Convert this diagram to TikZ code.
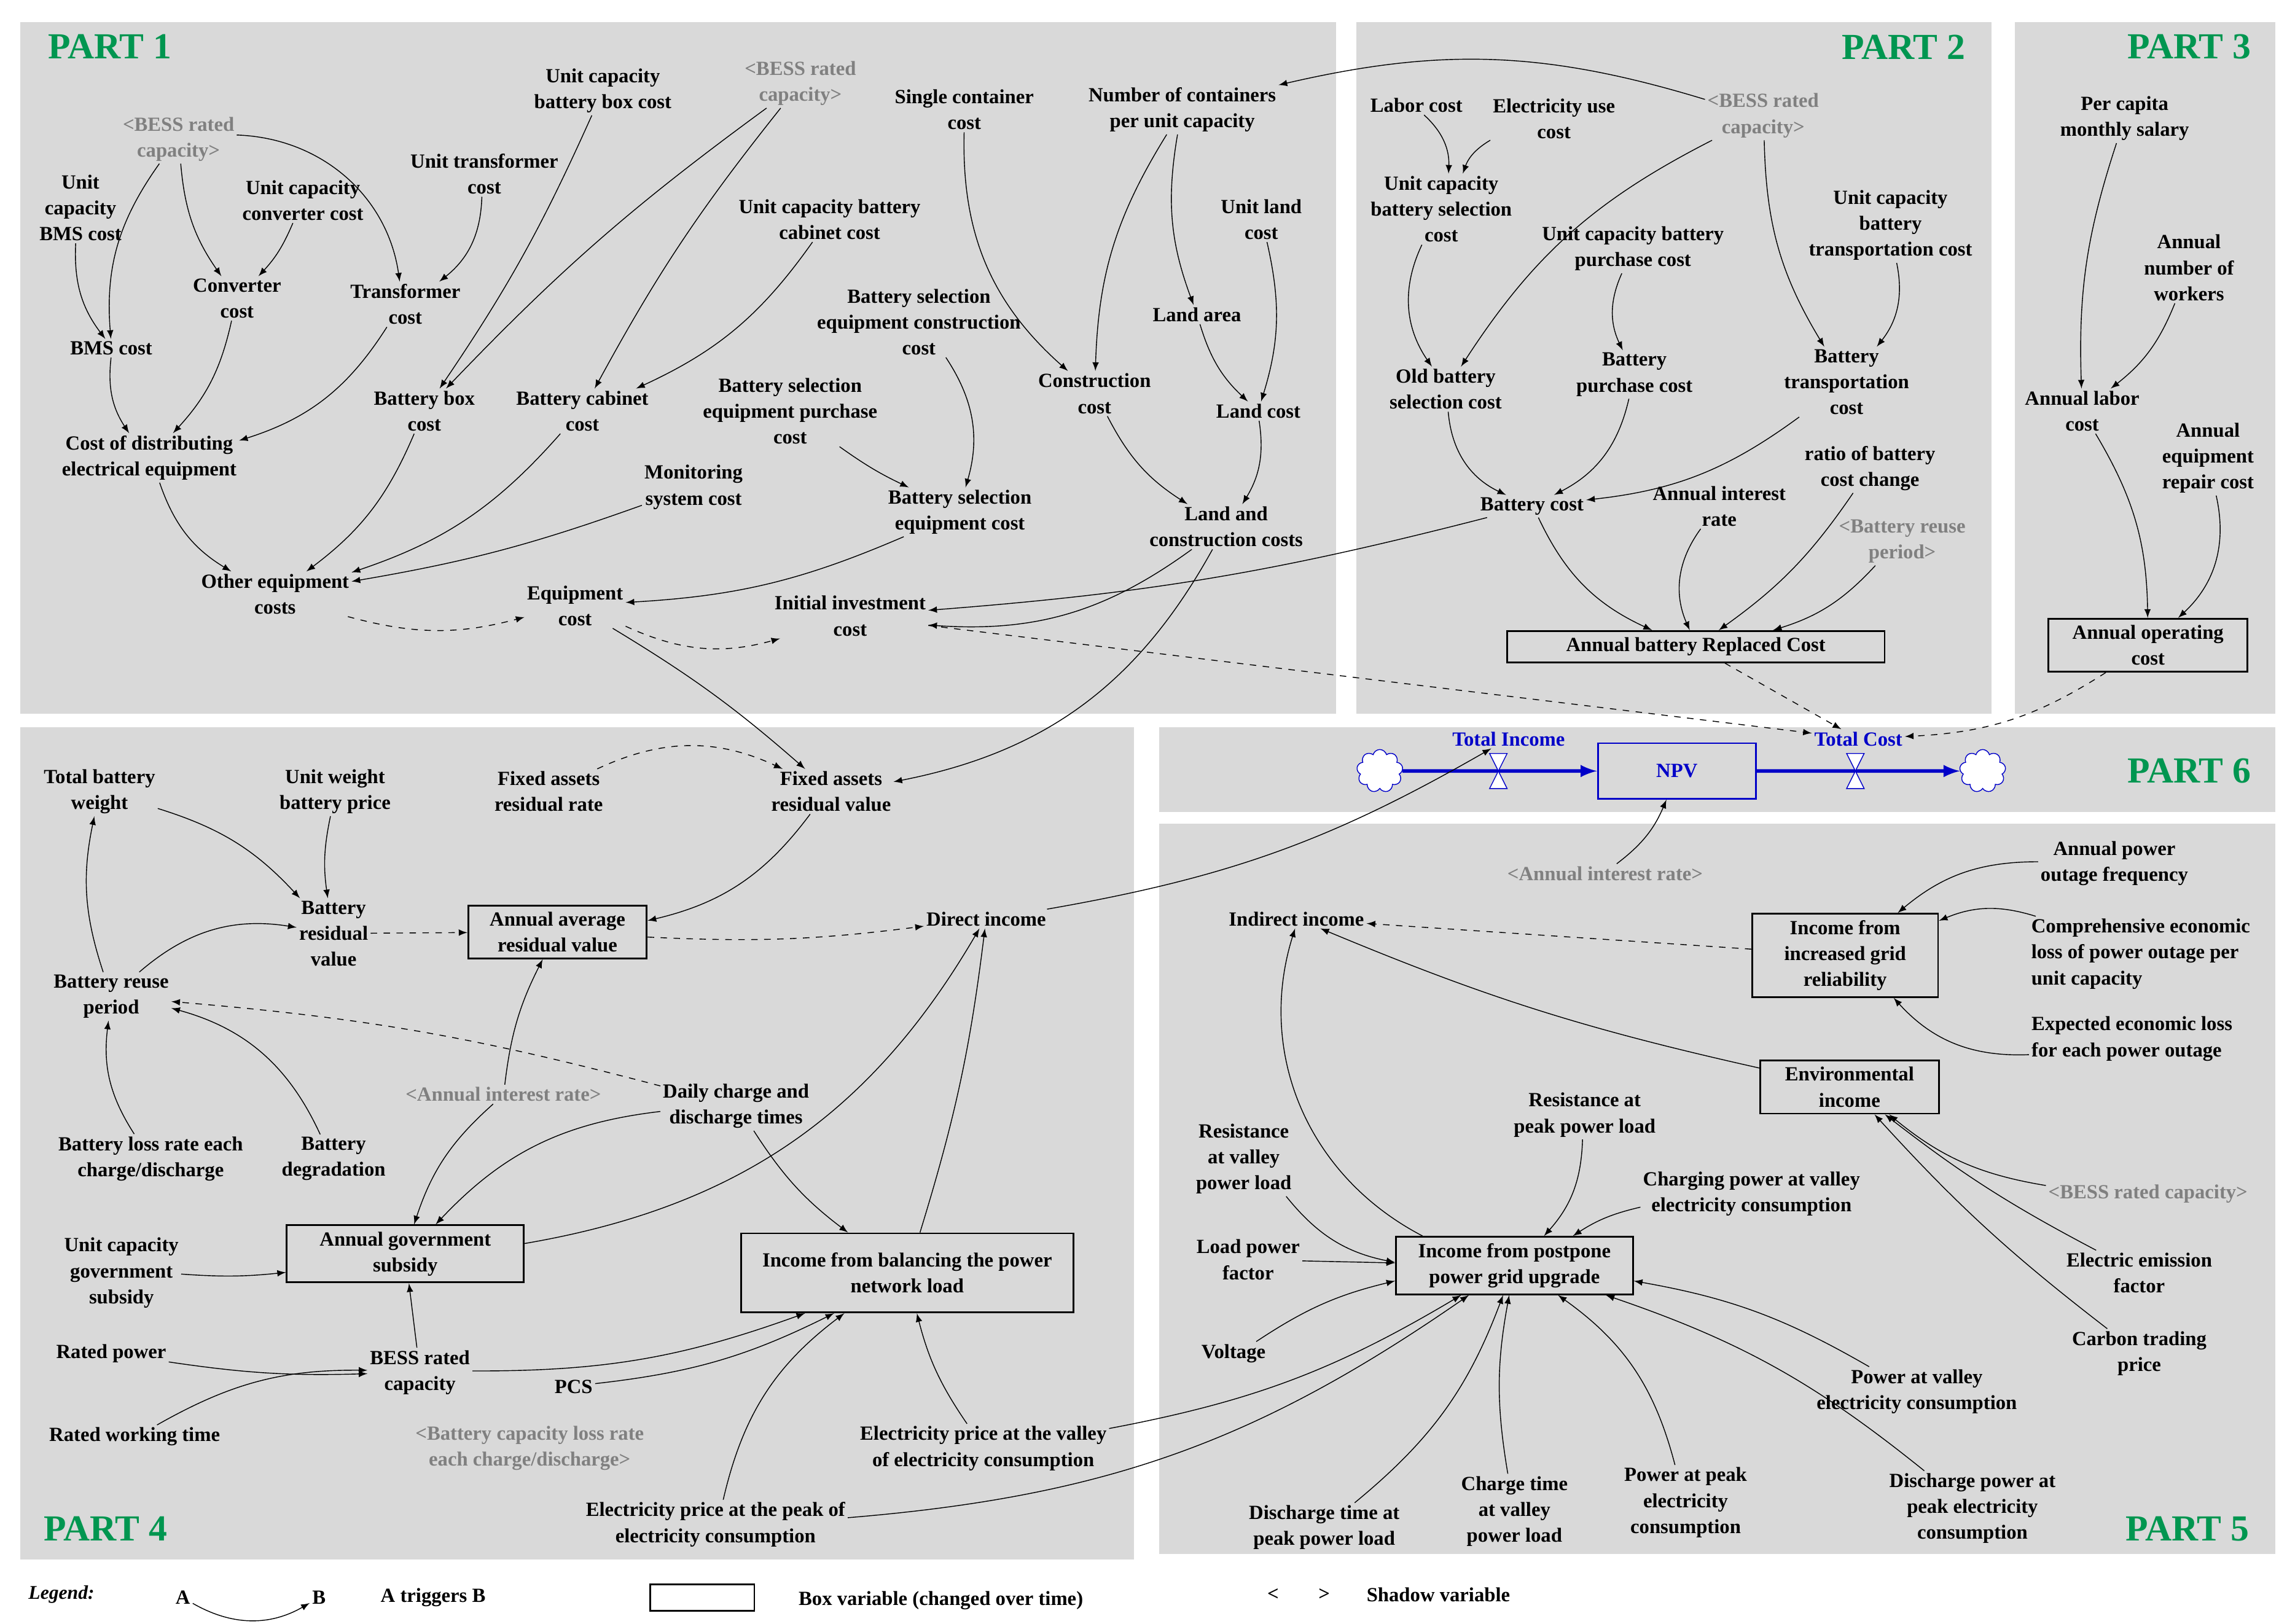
\documentclass[tikz,border=0pt]{standalone}
\usepackage{fontspec}
\setmainfont{Liberation Serif}
\usetikzlibrary{shapes.symbols,arrows}
\definecolor{panel}{RGB}{217,217,217}
\definecolor{partgreen}{RGB}{0,150,80}
\definecolor{npvblue}{RGB}{0,0,200}
\tikzset{
  var/.style={align=center,font=\bfseries\fontsize{9.3}{12}\selectfont,inner sep=1pt},
  shadow/.style={var,text=gray},
  box/.style={var,draw,thick,inner sep=3pt},
  arr/.style={-latex,thin},
  dsh/.style={arr,dashed},
  part/.style={font=\bfseries\fontsize{17}{17}\selectfont,text=partgreen},
  pipe/.style={-latex,npvblue,line width=1.6pt}
}
\begin{document}
\begin{tikzpicture}[x=0.02382cm,y=-0.02382cm]
\useasboundingbox[fill=white] (0,0) rectangle (1563,1110);
% panels
\fill[panel] (14,15) rectangle (913,488); % Part 1
\fill[panel] (927,15) rectangle (1361,488); % Part 2
\fill[panel] (1377,15) rectangle (1555,488); % Part 3
\fill[panel] (14,497) rectangle (775,1066); % Part 4
\fill[panel] (792,497) rectangle (1555,555); % Part 6
\fill[panel] (792,563) rectangle (1555,1062); % Part 5
\node[part] (p1) at (75,32) {PART 1};
\node[part] (p2) at (1301,32) {PART 2};
\node[part] (p3) at (1496,32) {PART 3};
\node[part] (p6) at (1496,527) {PART 6};
\node[part] (p4) at (72,1045) {PART 4};
\node[part] (p5) at (1495,1045) {PART 5};
% Part 1
\node[shadow] (bessA) at (122,95) {<BESS rated\\capacity>};
\node[var] (ucbms) at (55,142) {Unit\\capacity\\BMS cost};
\node[var] (ucconv) at (207,137) {Unit capacity\\converter cost};
\node[var] (uctrans) at (331,119) {Unit transformer\\cost};
\node[var] (ucbox) at (412,62) {Unit capacity\\battery box cost};
\node[shadow] (bessB) at (547,57) {<BESS rated\\capacity>};
\node[var] (single) at (659,75) {Single container\\cost};
\node[var] (numcont) at (808,75) {Number of containers\\per unit capacity};
\node[var] (uccab) at (567,150) {Unit capacity battery\\cabinet cost};
\node[var] (bms) at (76,238) {BMS cost};
\node[var] (conv) at (162,204) {Converter\\cost};
\node[var] (trans) at (277,208) {Transformer\\cost};
\node[var] (bsect) at (628,220) {Battery selection\\equipment construction\\cost};
\node[var] (unitland) at (862,150) {Unit land\\cost};
\node[var] (landarea) at (818,215) {Land area};
\node[var] (box) at (290,281) {Battery box\\cost};
\node[var] (cab) at (398,281) {Battery cabinet\\cost};
\node[var] (bsepc) at (540,281) {Battery selection\\equipment purchase\\cost};
\node[var] (constr) at (748,269) {Construction\\cost};
\node[var] (landcost) at (860,281) {Land cost};
\node[var] (distrib) at (102,313) {Cost of distributing\\electrical equipment};
\node[var] (monitor) at (474,333) {Monitoring\\system cost};
\node[var] (bsec) at (656,350) {Battery selection\\equipment cost};
\node[var] (landconst) at (838,360) {Land and\\construction costs};
\node[var] (other) at (188,406) {Other equipment\\costs};
\node[var] (equip) at (393,414) {Equipment\\cost};
\node[var] (initinv) at (581,421) {Initial investment\\cost};
% Part 2
\node[var] (labor) at (968,72) {Labor cost};
\node[var] (elec) at (1062,81) {Electricity use\\cost};
\node[shadow] (bessC) at (1205,79) {<BESS rated\\capacity>};
\node[var] (ucbsc) at (985,143) {Unit capacity\\battery selection\\cost};
\node[var] (ucbpc) at (1116,170) {Unit capacity battery\\purchase cost};
\node[var] (ucbtc) at (1292,154) {Unit capacity\\battery\\transportation cost};
\node[var] (oldbsc) at (988,266) {Old battery\\selection cost};
\node[var] (bpc) at (1117,256) {Battery\\purchase cost};
\node[var] (btc) at (1262,261) {Battery\\transportation\\cost};
\node[var] (ratio) at (1278,320) {ratio of battery\\cost change};
\node[var] (bcost) at (1047,346) {Battery cost};
\node[var] (air) at (1175,346) {Annual interest\\rate};
\node[shadow] (brp) at (1300,370) {<Battery reuse\\period>};
\node[box,minimum width=258*0.02382cm] (abrc) at (1159,442) {Annual battery Replaced Cost};
% Part 3
\node[var] (salary) at (1452,81) {Per capita\\monthly salary};
\node[var] (workers) at (1496,183) {Annual\\number of\\workers};
\node[var] (labor3) at (1423,281) {Annual labor\\cost};
\node[var] (repair) at (1509,313) {Annual\\equipment\\repair cost};
\node[box,minimum width=136*0.02382cm] (aoc) at (1468,441) {Annual operating\\cost};
% Part 6
\node[cloud,draw,npvblue,fill=white,cloud puffs=9,minimum width=0.75cm,minimum height=0.7cm] (cloudL) at (943,527) {};
\node[cloud,draw,npvblue,fill=white,cloud puffs=9,minimum width=0.75cm,minimum height=0.7cm] (cloudR) at (1355,527) {};
\node[box,npvblue,minimum width=108*0.02382cm,minimum height=38*0.02382cm] (npv) at (1146,527) {NPV};
\coordinate (valveL) at (1024,527);
\coordinate (valveR) at (1268,527);
\draw[pipe] (cloudL) -- (npv);
\draw[pipe] (npv) -- (cloudR);
\foreach \v in {valveL,valveR}
  \draw[npvblue,fill=white,thin] ([shift={(-6,-12)}]\v) -- ([shift={(6,-12)}]\v) -- ([shift={(-6,12)}]\v) -- ([shift={(6,12)}]\v) -- cycle;
\node[var,text=npvblue] (tinc) at (1031,505) {Total Income};
\node[var,text=npvblue] (tcost) at (1270,505) {Total Cost};
% Part 4
\node[var] (tbw) at (68,541) {Total battery\\weight};
\node[var] (uwbp) at (229,541) {Unit weight\\battery price};
\node[var] (farr) at (375,541) {Fixed assets\\residual rate};
\node[var] (farv) at (568,541) {Fixed assets\\residual value};
\node[var] (brv) at (228,638) {Battery\\residual\\value};
\node[box,minimum width=122*0.02382cm] (aarv) at (381,637) {Annual average\\residual value};
\node[var] (direct) at (674,628) {Direct income};
\node[var] (brp4) at (76,681) {Battery reuse\\period};
\node[shadow] (air4) at (344,748) {<Annual interest rate>};
\node[var] (dcdt) at (503,756) {Daily charge and\\discharge times};
\node[var] (blr) at (103,792) {Battery loss rate each\\charge/discharge};
\node[var] (bdeg) at (228,792) {Battery\\degradation};
\node[var] (ucgs) at (83,870) {Unit capacity\\government\\subsidy};
\node[box,minimum width=162*0.02382cm] (ags) at (277,857) {Annual government\\subsidy};
\node[box,minimum width=227*0.02382cm,minimum height=54*0.02382cm] (ibal) at (620,870) {Income from balancing the power\\network load};
\node[var] (rated) at (76,925) {Rated power};
\node[var] (bessrc) at (287,938) {BESS rated\\capacity};
\node[var] (pcs) at (392,948) {PCS};
\node[shadow] (bclr) at (362,990) {<Battery capacity loss rate\\each charge/discharge>};
\node[var] (epv) at (672,990) {Electricity price at the valley\\of electricity consumption};
\node[var] (rwt) at (92,982) {Rated working time};
\node[var] (epp) at (489,1042) {Electricity price at the peak of\\electricity consumption};
% Part 5
\node[shadow] (air5) at (1097,597) {<Annual interest rate>};
\node[var] (apof) at (1445,590) {Annual power\\outage frequency};
\node[var] (indirect) at (886,628) {Indirect income};
\node[box,minimum width=127*0.02382cm] (iigr) at (1261,653) {Income from\\increased grid\\reliability};
\node[var,align=left] (cel) at (1463,652) {Comprehensive economic\\loss of power outage per\\unit capacity};
\node[var,align=left] (eel) at (1457,710) {Expected economic loss\\for each power outage};
\node[box,minimum width=122*0.02382cm] (env) at (1264,743) {Environmental\\income};
\node[var] (rpp) at (1083,762) {Resistance at\\peak power load};
\node[var] (rvp) at (850,792) {Resistance\\at valley\\power load};
\node[var] (cpv) at (1197,816) {Charging power at valley\\electricity consumption};
\node[shadow] (bessD) at (1468,816) {<BESS rated capacity>};
\node[var] (lpf) at (853,861) {Load power\\factor};
\node[box,minimum width=162*0.02382cm] (ipg) at (1035,865) {Income from postpone\\power grid upgrade};
\node[var] (eef) at (1462,870) {Electric emission\\factor};
\node[var] (volt) at (843,925) {Voltage};
\node[var] (ctp) at (1462,925) {Carbon trading\\price};
\node[var] (pvc) at (1310,951) {Power at valley\\electricity consumption};
\node[var] (ctv) at (1035,1033) {Charge time\\at valley\\power load};
\node[var] (pppe) at (1152,1027) {Power at peak\\electricity\\consumption};
\node[var] (dtp) at (905,1044) {Discharge time at\\peak power load};
\node[var] (dpp) at (1348,1031) {Discharge power at\\peak electricity\\consumption};
% links part 1
\draw[arr] (bessA) to[bend right=20] (bms);
\draw[arr] (bessA) to[bend right=15] (conv);
\draw[arr] (bessA) to[bend left=40] (trans);
\draw[arr] (ucbms) to[bend right=20] (bms);
\draw[arr] (ucconv) to[bend left=10] (conv);
\draw[arr] (uctrans) to[bend left=25] (trans);
\draw[arr] (bms) to[bend right=20] (distrib);
\draw[arr] (conv) to[bend left=15] (distrib);
\draw[arr] (trans) to[bend left=20] (distrib);
\draw[arr] (ucbox) to[bend left=5] (box);
\draw[arr] (bessB) to[bend right=5] (box);
\draw[arr] (bessB) to[bend right=5] (cab);
\draw[arr] (uccab) to[bend left=15] (cab);
\draw[arr] (box) to[bend left=15] (other);
\draw[arr] (cab) to[bend left=15] (other);
\draw[arr] (distrib) to[bend right=20] (other);
\draw[arr] (monitor) to[bend left=5] (other);
\draw[dsh] (other) to[bend right=15] (equip);
\draw[arr] (bsec) to[bend left=10] (equip);
\draw[dsh] (equip) to[bend right=20] (initinv);
\draw[arr] (bsect) to[bend left=25] (bsec);
\draw[arr] (bsepc) to[bend right=5] (bsec);
\draw[arr] (single) to[bend right=25] (constr);
\draw[arr] (numcont) to[bend right=15] (constr);
\draw[arr] (numcont) to[bend right=15] (landarea);
\draw[arr] (unitland) to[bend left=15] (landcost);
\draw[arr] (landarea) to[bend right=15] (landcost);
\draw[arr] (constr) to[bend right=15] (landconst);
\draw[arr] (landcost) to[bend left=20] (landconst);
\draw[arr] (landconst) to[bend left=20] (initinv);
\draw[arr] (landconst) to[bend left=25] (farv);
\draw[arr] (equip) to[bend left=5] (farv);
\draw[arr] (bcost) to[bend left=5] (initinv);
\draw[dsh] (initinv) -- (tcost);
% links part 2
\draw[arr] (bessC) to[bend right=15] (numcont);
\draw[arr] (bessC) to[bend right=15] (oldbsc);
\draw[arr] (bessC) to[bend right=15] (btc);
\draw[arr] (labor) to[bend left=25] (ucbsc);
\draw[arr] (elec) to[bend right=20] (ucbsc);
\draw[arr] (ucbsc) to[bend right=30] (oldbsc);
\draw[arr] (ucbpc) to[bend right=25] (bpc);
\draw[arr] (ucbtc) to[bend left=25] (btc);
\draw[arr] (oldbsc) to[bend right=30] (bcost);
\draw[arr] (bpc) to[bend left=25] (bcost);
\draw[arr] (btc) to[bend left=15] (bcost);
\draw[arr] (bcost) to[bend right=20] (abrc);
\draw[arr] (air) to[bend right=30] (abrc);
\draw[arr] (ratio) to[bend left=10] (abrc);
\draw[arr] (brp) to[bend left=15] (abrc);
\draw[dsh] (abrc) -- (tcost);
% links part 3
\draw[arr] (salary) to[bend right=10] (labor3);
\draw[arr] (workers) to[bend left=15] (labor3);
\draw[arr] (labor3) to[bend left=15] (aoc);
\draw[arr] (repair) to[bend left=30] (aoc);
\draw[dsh] (aoc) to[bend left=15] (tcost);
% links part 6
\draw[arr] (direct) to[bend right=10] (tinc);
\draw[arr] (air5) to[bend right=15] (npv);
% links part 4
\draw[arr] (tbw) to[bend left=15] (brv);
\draw[arr] (uwbp) to[bend right=10] (brv);
\draw[arr] (brp4) to[bend left=15] (tbw);
\draw[arr] (brp4) to[bend left=25] (brv);
\draw[arr] (blr) to[bend left=20] (brp4);
\draw[arr] (bdeg) to[bend right=25] (brp4);
\draw[dsh] (dcdt) to[bend right=5] (brp4);
\draw[dsh] (brv) -- (aarv);
\draw[dsh] (farr) to[bend left=25] (farv);
\draw[arr] (farv) to[bend left=20] (aarv);
\draw[dsh] (aarv) to[bend right=5] (direct);
\draw[arr] (air4) to[bend left=10] (aarv);
\draw[arr] (air4) to[bend right=15] (ags);
\draw[arr] (dcdt) to[bend right=20] (ags);
\draw[arr] (dcdt) to[bend right=10] (ibal);
\draw[arr] (ucgs) to[bend right=5] (ags);
\draw[arr] (ags) to[bend right=25] (direct);
\draw[arr] (ibal) to[bend right=5] (direct);
\draw[arr] (rated) to[bend right=5] (bessrc);
\draw[arr] (rwt) to[bend left=15] (bessrc);
\draw[arr] (bessrc) -- (ags);
\draw[arr] (bessrc) to[bend right=10] (ibal);
\draw[arr] (pcs) to[bend right=10] (ibal);
\draw[arr] (epv) to[bend left=10] (ibal);
\draw[arr] (epp) to[bend left=20] (ibal);
\draw[arr] (epv) to[bend right=10] (ipg);
\draw[arr] (epp) to[bend right=15] (ipg);
% links part 5
\draw[dsh] (iigr) -- (indirect);
\draw[arr] (env) to[bend left=5] (indirect);
\draw[arr] (ipg) to[bend left=40] (indirect);
\draw[arr] (apof) to[bend right=20] (iigr);
\draw[arr] (cel) to[bend right=20] (iigr);
\draw[arr] (eel) to[bend left=25] (iigr);
\draw[arr] (bessD) to[bend left=15] (env);
\draw[arr] (eef) to[bend left=5] (env);
\draw[arr] (ctp) to[bend left=5] (env);
\draw[arr] (rpp) to[bend left=20] (ipg);
\draw[arr] (cpv) to[bend right=10] (ipg);
\draw[arr] (rvp) to[bend right=20] (ipg);
\draw[arr] (lpf) -- (ipg);
\draw[arr] (volt) to[bend left=10] (ipg);
\draw[arr] (pvc) to[bend right=10] (ipg);
\draw[arr] (dpp) to[bend right=10] (ipg);
\draw[arr] (pppe) to[bend right=20] (ipg);
\draw[arr] (ctv) to[bend left=10] (ipg);
\draw[arr] (dtp) to[bend right=15] (ipg);
% legend
\node[var,font=\bfseries\itshape\fontsize{9}{11}\selectfont] (leg) at (42,1090) {Legend:};
\node[var] (legA) at (125,1092) {A};
\node[var] (legB) at (218,1092) {B};
\draw[arr] (legA) to[bend right=30] (legB);
\node[var] (legt) at (296,1092) {A triggers B};
\node[draw,thick,minimum width=71*0.02382cm,minimum height=18*0.02382cm] (legbox) at (480,1092) {};
\node[var] (legbt) at (643,1094) {Box variable (changed over time)};
\node[var] (legl) at (870,1090) {<};
\node[var] (legr) at (905,1090) {>};
\node[var] (legs) at (983,1090) {Shadow variable};
\end{tikzpicture}
\end{document}
